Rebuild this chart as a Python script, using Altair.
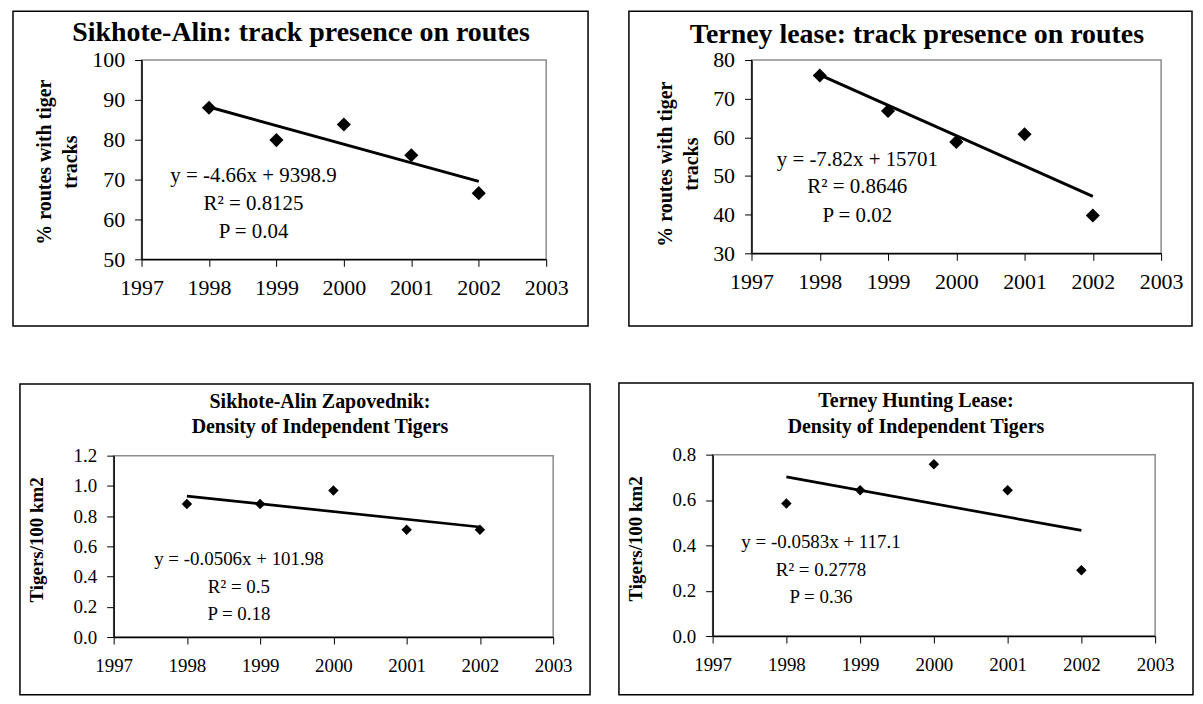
import altair as alt
import pandas as pd

FONT = "Liberation Serif"

# ---- data ----
years = [1998, 1999, 2000, 2001, 2002]
sa_tracks = [88.0, 79.9, 83.8, 76.1, 66.6]        # Sikhote-Alin: % routes with tiger tracks
tl_tracks = [76.0, 66.8, 58.8, 60.8, 39.8]        # Terney lease: % routes with tiger tracks
sa_density = [0.88, 0.88, 0.97, 0.71, 0.71]       # Sikhote-Alin Zapovednik: tigers/100 km2
tl_density = [0.585, 0.643, 0.758, 0.643, 0.29]   # Terney Hunting Lease: tigers/100 km2
x_ticks = [1997, 1998, 1999, 2000, 2001, 2002, 2003]
y_ticks_sa_tracks = [50, 60, 70, 80, 90, 100]
y_ticks_tl_tracks = [30, 40, 50, 60, 70, 80]
y_ticks_sa_density = [0.0, 0.2, 0.4, 0.6, 0.8, 1.0, 1.2]
y_ticks_tl_density = [0.0, 0.2, 0.4, 0.6, 0.8]

ann_sa_tracks = ["y = -4.66x + 9398.9", "R\u00b2 = 0.8125", "P = 0.04"]
ann_tl_tracks = ["y = -7.82x + 15701", "R\u00b2 = 0.8646", "P = 0.02"]
ann_sa_density = ["y = -0.0506x + 101.98", "R\u00b2 = 0.5", "P = 0.18"]
ann_tl_density = ["y = -0.0583x + 117.1", "R\u00b2 = 0.2778", "P = 0.36"]

# annotation anchor positions in data units (year, value) for each text line
ann_pos_sa_tracks = [(1998.66, 70.8), (1998.66, 63.8), (1998.66, 56.75)]
ann_pos_tl_tracks = [(1998.55, 54.1), (1998.55, 47.2), (1998.55, 39.7)]
ann_pos_sa_density = [(1998.71, 0.514), (1998.71, 0.330), (1998.71, 0.152)]
ann_pos_tl_density = [(1998.47, 0.413), (1998.47, 0.290), (1998.47, 0.171)]


def one_row():
    return pd.DataFrame({"k": [0]})


def rect_layer(box, **mark_kw):
    x1, y1, x2, y2 = box
    return alt.Chart(one_row()).mark_rect(**mark_kw).encode(
        x=alt.value(x1), x2=alt.value(x2), y=alt.value(y1), y2=alt.value(y2)
    )


def make_panel(cfg):
    df = pd.DataFrame({"year": years, "value": cfg["values"]})
    label_kw = dict(
        labelFont=FONT, labelFontSize=cfg["tick_fs"], labelColor="black",
        labelFlush=False, labelOverlap=False, labelBound=False,
        domainColor="black", domainWidth=1.5, tickColor="black",
        tickSize=7, tickWidth=1, grid=False,
    )
    xaxis = alt.Axis(values=x_ticks, format="d", title=None,
                     labelPadding=cfg["xpad"], **label_kw)
    yaxis = alt.Axis(
        values=cfg["yticks"], format=cfg["yfmt"], title=cfg["ytitle"],
        titleFontSize=cfg["axt_fs"], titleFontWeight="bold", titleFont=FONT,
        titleColor="black", titleAngle=270, titleAlign="center",
        titleBaseline="middle", titleX=cfg["titleX"], titleY=cfg["titleY"],
        titleLineHeight=26, labelPadding=10, **label_kw,
    )
    xenc = alt.X("year:Q", scale=alt.Scale(domain=[1997, 2003], nice=False, zero=False),
                 axis=xaxis)
    yenc = alt.Y("value:Q", scale=alt.Scale(domain=cfg["ydomain"], nice=False, zero=False),
                 axis=yaxis)

    base = alt.Chart(df)
    trend = base.transform_regression("year", "value").mark_line(
        color="black", strokeWidth=cfg["lw"]
    ).encode(x=xenc, y=yenc)
    pts = base.mark_point(
        shape="diamond", filled=True, color="black", opacity=1, size=cfg["dsize"]
    ).encode(x=xenc, y=yenc)

    ann_df = pd.DataFrame({
        "year": [p[0] for p in cfg["ann_pos"]],
        "value": [p[1] for p in cfg["ann_pos"]],
        "label": cfg["ann"],
    })
    ann = alt.Chart(ann_df).mark_text(
        font=FONT, fontSize=cfg["ann_fs"], color="black", align="center", baseline="middle"
    ).encode(x=xenc, y=yenc, text="label:N")

    cx1, cy1, cx2, cy2 = cfg["cell"]
    layers = [
        # two tiny white marks at the cell corners fix the panel's layout extent
        rect_layer((cx1, cy1, cx1 + 1, cy1 + 1), color="white", opacity=1),
        rect_layer((cx2 - 1, cy2 - 1, cx2, cy2), color="white", opacity=1),
        rect_layer(cfg["border"], fillOpacity=0, stroke="black", strokeWidth=1.5),
        trend, pts, ann,
    ]
    for text, tx, ty in cfg["title"]:
        layers.append(
            alt.Chart(one_row()).mark_text(
                font=FONT, fontSize=cfg["title_fs"], fontWeight="bold", color="black",
                align="center", baseline=cfg["title_baseline"],
            ).encode(x=alt.value(tx), y=alt.value(ty), text=alt.value(text))
        )
    return alt.layer(*layers).properties(
        width=cfg["w"], height=cfg["h"],
        view=alt.ViewBackground(stroke="#8c8c8c", strokeWidth=1.5),
    )


def spacer():
    return rect_layer((0, 0, 1, 1), color="white", opacity=1).properties(
        width=1, height=1, view=alt.ViewBackground(stroke="transparent")
    )


p1 = make_panel(dict(
    values=sa_tracks, ydomain=[50, 100], yticks=y_ticks_sa_tracks, yfmt="d",
    w=406, h=200, ytitle=["% routes with tiger", "tracks"], axt_fs=20,
    titleX=-97.5, titleY=102, tick_fs=22, xpad=11.5,
    title=[("Sikhote-Alin: track presence on routes", 160, -19)], title_fs=28,
    title_baseline="alphabetic",
    ann=ann_sa_tracks, ann_pos=ann_pos_sa_tracks, ann_fs=21,
    cell=(-130, -50, 482, 270), border=(-129, -49, 448, 267), dsize=200, lw=3,
))
p2 = make_panel(dict(
    values=tl_tracks, ydomain=[30, 80], yticks=y_ticks_tl_tracks, yfmt="d",
    w=411, h=194, ytitle=["% routes with tiger", "tracks"], axt_fs=20,
    titleX=-86, titleY=104, tick_fs=22, xpad=11.5,
    title=[("Terney lease: track presence on routes", 166, -17)], title_fs=28,
    title_baseline="alphabetic",
    ann=ann_tl_tracks, ann_pos=ann_pos_tl_tracks, ann_fs=21,
    cell=(-128, -50, 443, 270), border=(-123, -49, 442, 267), dsize=200, lw=3,
))
p3 = make_panel(dict(
    values=sa_density, ydomain=[0, 1.2], yticks=y_ticks_sa_density, yfmt=".1f",
    w=441, h=182, ytitle="Tigers/100 km2", axt_fs=19,
    titleX=-77.5, titleY=84, tick_fs=19, xpad=13,
    title=[("Sikhote-Alin Zapovednik:", 207, -54),
           ("Density of Independent Tigers", 207, -29)], title_fs=20,
    title_baseline="middle",
    ann=ann_sa_density, ann_pos=ann_pos_sa_density, ann_fs=19,
    cell=(-102, -125, 482, 241), border=(-94, -72, 478, 240), dsize=110, lw=2.7,
))
p4 = make_panel(dict(
    values=tl_density, ydomain=[0, 0.8], yticks=y_ticks_tl_density, yfmt=".1f",
    w=444, h=182, ytitle="Tigers/100 km2", axt_fs=19,
    titleX=-77, titleY=84, tick_fs=19, xpad=13,
    title=[("Terney Hunting Lease:", 204, -54),
           ("Density of Independent Tigers", 204, -28)], title_fs=20,
    title_baseline="middle",
    ann=ann_tl_density, ann_pos=ann_pos_tl_density, ann_fs=19,
    cell=(-117, -124, 483, 242), border=(-94, -72, 482, 241), dsize=110, lw=2.7,
))

chart = (
    alt.concat(spacer(), p1, p2, spacer(), p3, p4, columns=3, spacing=0)
    .properties(padding=0, background="white", align="none", bounds="full")
    .configure_axis(
        domainColor="black", domainWidth=1.5, tickColor="black", tickSize=7,
        tickWidth=1, grid=False, labelFont=FONT, labelColor="black",
        titleColor="black", titleFont=FONT, labelOverlap=False,
    )
)

chart.save("out.html", embed_options={"renderer": "svg", "actions": False})
